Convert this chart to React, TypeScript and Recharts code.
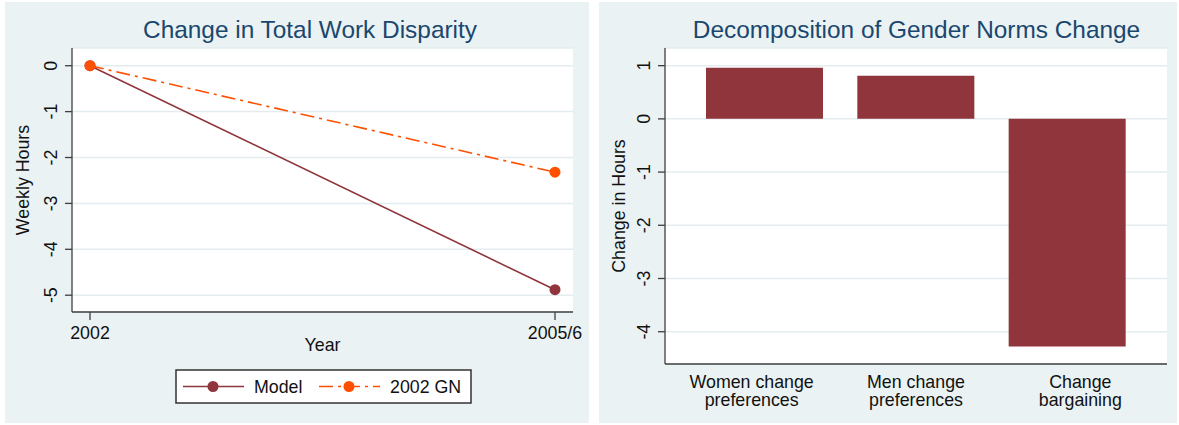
import React from 'react';
import {
  LineChart,
  Line,
  BarChart,
  Bar,
  XAxis,
  YAxis,
  CartesianGrid,
  Legend,
} from 'recharts';

// ---- data ----
const years = ['2002', '2005/6'];
const modelHours = [0, -4.88];
const gnHours = [0, -2.32];
const weeklyTicks = [0, -1, -2, -3, -4, -5];

const components = ['Women change preferences', 'Men change preferences', 'Change bargaining'];
const componentLabelLines = [
  ['Women change', 'preferences'],
  ['Men change', 'preferences'],
  ['Change', 'bargaining'],
];
const componentHours = [0.96, 0.81, -4.28];
const changeTicks = [1, 0, -1, -2, -3, -4];

// ---- styling ----
const FONT = '"Liberation Sans", Arial, Helvetica, sans-serif';
const FS = 17.8;
const PANEL_BG = '#EAF2F3';
const TITLE_COLOR = '#1A476F';
const AXIS_COLOR = '#3f3f3f';
const GRID_COLOR = '#E3ECEE';
const TEXT_COLOR = '#111111';
const MAROON = '#8F353B';
const ORANGE = '#FF4F00';

const lineSeries = [
  { key: 'model', name: 'Model', color: MAROON, dash: undefined as string | undefined },
  { key: 'gn', name: '2002 GN', color: ORANGE, dash: '14 5 3 5' },
];

const lineData = years.map((year, i) => ({ year, model: modelHours[i], gn: gnHours[i] }));
const barData = components.map((name, i) => ({ name, idx: i, hours: componentHours[i] }));

const PANEL_W_LEFT = 584;
const PANEL_W_RIGHT = 578;
const PANEL_H = 421;

// vertical (rotated) y tick labels
const RotatedTick = (props: any) => {
  const { x, y, payload } = props;
  const cx = x - 14;
  return (
    <text
      x={cx}
      y={y}
      transform={`rotate(-90 ${cx} ${y})`}
      textAnchor="middle"
      dominantBaseline="central"
      fontSize={FS}
      fontFamily={FONT}
      fill={TEXT_COLOR}
    >
      {payload.value}
    </text>
  );
};

const YearTick = (props: any) => {
  const { x, y, payload } = props;
  return (
    <text x={x} y={y} dy="0.71em" textAnchor="middle" fontSize={FS} fontFamily={FONT} fill={TEXT_COLOR}>
      {payload.value}
    </text>
  );
};

const ComponentTick = (props: any) => {
  const { x, y, index } = props;
  const lines = componentLabelLines[index] || [];
  const shift = (index - 1) * 13;
  return (
    <g>
      {lines.map((ln: string, k: number) => (
        <text
          key={k}
          x={x + shift}
          y={y + k * 18.5}
          dy="0.71em"
          textAnchor="middle"
          fontSize={FS}
          fontFamily={FONT}
          fill={TEXT_COLOR}
        >
          {ln}
        </text>
      ))}
    </g>
  );
};

const makeYLabel = (text: string, cx: number) => (props: any) => {
  const vb = props.viewBox || {};
  const cy = vb.y + vb.height / 2;
  return (
    <text
      x={cx}
      y={cy}
      transform={`rotate(-90 ${cx} ${cy})`}
      textAnchor="middle"
      dominantBaseline="central"
      fontSize={FS}
      fontFamily={FONT}
      fill={TEXT_COLOR}
    >
      {text}
    </text>
  );
};

const YearLabel = (props: any) => {
  const vb = props.viewBox || {};
  return (
    <text
      x={vb.x + vb.width / 2}
      y={vb.y + 39}
      textAnchor="middle"
      fontSize={FS}
      fontFamily={FONT}
      fill={TEXT_COLOR}
    >
      Year
    </text>
  );
};

const LegendBox = () => (
  <svg width={298} height={36} style={{ display: 'block' }}>
    <rect x={1} y={1} width={295} height={33} fill="#ffffff" stroke="#333333" strokeWidth={1.5} />
    {lineSeries.map((s, i) => {
      const x0 = i === 0 ? 8 : 144;
      return (
        <g key={s.key}>
          <line
            x1={x0}
            x2={x0 + 61}
            y1={17.5}
            y2={17.5}
            stroke={s.color}
            strokeWidth={1.6}
            strokeDasharray={s.dash}
          />
          <circle cx={x0 + 30} cy={17.5} r={5.5} fill={s.color} />
          <text x={x0 + 71} y={17.5} dy="0.36em" fontSize={FS} fontFamily={FONT} fill={TEXT_COLOR}>
            {s.name}
          </text>
        </g>
      );
    })}
  </svg>
);

const titleStyle = (cx: number): React.CSSProperties => ({
  position: 'absolute',
  top: 28,
  left: cx - 300,
  width: 600,
  textAlign: 'center',
  transform: 'translateY(-50%)',
  fontFamily: FONT,
  fontSize: 24.4,
  color: TITLE_COLOR,
  lineHeight: '28px',
  whiteSpace: 'nowrap',
});

export default function App() {
  return (
    <div
      style={{
        position: 'absolute',
        left: 0,
        top: 0,
        width: 1179,
        height: 425,
        background: '#ffffff',
        overflow: 'hidden',
      }}
    >
      {/* left panel: line chart */}
      <div
        style={{
          position: 'absolute',
          left: 5,
          top: 2,
          width: PANEL_W_LEFT,
          height: PANEL_H,
          background: PANEL_BG,
        }}
      >
        <div style={titleStyle(305)}>Change in Total Work Disparity</div>
        <LineChart
          width={PANEL_W_LEFT}
          height={PANEL_H}
          data={lineData}
          margin={{ top: 46, right: 16, left: 0, bottom: 71 }}
        >
          <CartesianGrid vertical={false} horizontal stroke={GRID_COLOR} strokeWidth={1.5} fill="#ffffff" />
          <XAxis
            dataKey="year"
            type="category"
            height={40}
            padding={{ left: 18, right: 18 }}
            axisLine={{ stroke: AXIS_COLOR, strokeWidth: 1.3 }}
            tickLine={{ stroke: AXIS_COLOR, strokeWidth: 1.3 }}
            tickSize={8}
            tickMargin={6}
            tick={<YearTick />}
            interval={0}
            label={<YearLabel />}
          />
          <YAxis
            type="number"
            width={67}
            domain={[-5.366, 0.386]}
            ticks={weeklyTicks}
            allowDataOverflow
            axisLine={{ stroke: AXIS_COLOR, strokeWidth: 1.3 }}
            tickLine={{ stroke: AXIS_COLOR, strokeWidth: 1.3 }}
            tickSize={7}
            tickMargin={0}
            tick={<RotatedTick />}
            interval={0}
            label={{ content: makeYLabel('Weekly Hours', 18) } as any}
          />
          <Legend
            layout="horizontal"
            verticalAlign="middle"
            align="center"
            wrapperStyle={{ position: 'absolute', left: 170, top: 367, width: 298, height: 36 }}
            content={<LegendBox />}
          />
          {lineSeries.map((s) => (
            <Line
              key={s.key}
              dataKey={s.key}
              name={s.name}
              type="linear"
              stroke={s.color}
              strokeWidth={1.6}
              strokeDasharray={s.dash}
              dot={{ r: 5.5, fill: s.color, stroke: s.color, strokeWidth: 0, strokeDasharray: '' }}
              activeDot={false}
              isAnimationActive={false}
            />
          ))}
        </LineChart>
      </div>

      {/* right panel: bar chart */}
      <div
        style={{
          position: 'absolute',
          left: 599,
          top: 2,
          width: PANEL_W_RIGHT,
          height: PANEL_H,
          background: PANEL_BG,
        }}
      >
        <div style={titleStyle(317.5)}>Decomposition of Gender Norms Change</div>
        <BarChart
          width={PANEL_W_RIGHT}
          height={PANEL_H}
          data={barData}
          margin={{ top: 46, right: 10, left: 0, bottom: 19 }}
          barCategoryGap={0}
        >
          <CartesianGrid vertical={false} horizontal stroke={GRID_COLOR} strokeWidth={1.5} fill="#ffffff" />
          <XAxis
            dataKey="idx"
            type="category"
            height={40}
            padding={{ left: 24, right: 24 }}
            axisLine={{ stroke: AXIS_COLOR, strokeWidth: 1.3 }}
            tickLine={false}
            tickMargin={5}
            tick={<ComponentTick />}
            interval={0}
          />
          <YAxis
            type="number"
            width={66}
            domain={[-4.607, 1.332]}
            ticks={changeTicks}
            allowDataOverflow
            axisLine={{ stroke: AXIS_COLOR, strokeWidth: 1.3 }}
            tickLine={{ stroke: AXIS_COLOR, strokeWidth: 1.3 }}
            tickSize={7}
            tickMargin={0}
            tick={<RotatedTick />}
            interval={0}
            label={{ content: makeYLabel('Change in Hours', 20) } as any}
          />
          <Bar dataKey="hours" fill={MAROON} barSize={117} isAnimationActive={false} />
        </BarChart>
      </div>
    </div>
  );
}
